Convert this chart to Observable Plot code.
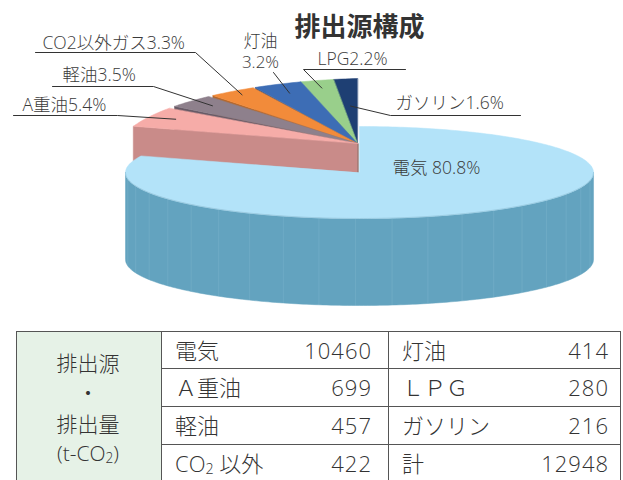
<!DOCTYPE html>
<html><head><meta charset="utf-8">
<script src="https://cdn.jsdelivr.net/npm/d3@7"></script>
<script src="https://cdn.jsdelivr.net/npm/@observablehq/plot@0.6"></script>
<style>
body{margin:0;width:623px;height:480px;overflow:hidden;background:#fff;
 font-family:"Open Sans","Noto Sans CJK JP",sans-serif;color:#333;}
#chart{position:absolute;left:0;top:0;}
#tbl{position:absolute;left:16px;top:331px;width:605px;height:152px;box-sizing:border-box;border:1px solid #555;}
.t{position:absolute;white-space:nowrap;font-size:22px;font-weight:300;line-height:1;transform:translateY(-50%);}
.h{font-size:21px;}
.num{letter-spacing:1px;}
.hl{position:absolute;height:1px;background:#555;}
.vl{position:absolute;width:1px;background:#555;top:0;bottom:0;}
sub{font-size:65%;vertical-align:baseline;position:relative;top:0.15em;line-height:0;}
</style></head><body>
<div id="chart"></div><div id="tbl"></div>
<script>
// ---- data ----
const title = "排出源構成";
const categories = ["電気","A重油","軽油","CO2以外ガス","灯油","LPG","ガソリン"];
const percents = [80.8, 5.4, 3.5, 3.3, 3.2, 2.2, 1.6];
const topColors = ["#b3e3f9","#f6aca8","#8e808c","#f28b3a","#3d6db5","#99cf8b","#1e3f73"];
const sideColors = ["#63a3bf","#c98b89","#665a66","#b5672a","#2b5189","#74a86a","#132c55"];
const headerLines = ["排出源","・","排出量","(t-CO<sub>2</sub>)"];
const tableLeftLabels = ["電気","Ａ重油","軽油","CO<sub>2</sub> 以外"];
const tableLeftValues = [10460, 699, 457, 422];
const tableRightLabels = ["灯油","ＬＰＧ","ガソリン","計"];
const tableRightValues = [414, 280, 216, 12948];

// ---- layout (pixels) ----
const CX = 359, CY = 172, RX = 234, RY = 46, DEPTH = 87;
const px2x = p => (p - CX) / RX;
const px2y = p => (p - CY) / RY;
const D = DEPTH / RY;
const S = {ox: px2x(357), oy: px2y(143), rx: 240 / RX, ry: 65 / RY, shear: 6.4 / RY};
const gaps = [0, 2.0, 1.3, 0.6, 0, 0, 0];
const labelLayout = [
  {tx: 392, ty: 168},
  {tx: 22, ty: 105, ux0: 13, ux1: 117, uy: 115, f: 0.88, side: "L"},
  {tx: 62, ty: 75, ux0: 52, ux1: 153, uy: 86, f: 0.88, side: "L"},
  {tx: 42, ty: 43, ux0: 35, ux1: 195, uy: 52, f: 0.93, side: "L"},
  {tx: 260, ty: 41, ty2: 62, lx: 273, ly: 72, f: 0.85, side: "C"},
  {tx: 317, ty: 59, ux0: 303, ux1: 405, uy: 69, f: 0.88, side: "R"},
  {tx: 395, ty: 103, ux0: 390, ux1: 520, uy: 115, f: 0.58, side: "R"}
];

const R = Math.PI / 180;
const cum = d3.cumsum(percents);
const a0s = percents.map((p, i) => (cum[i] - p) * 3.6);
const a1s = percents.map((p, i) => cum[i] * 3.6);

const bigPt = (a, z = 0) => ({x: Math.sin(a * R), y: -Math.cos(a * R) + z});
const smallPt = (a, f = 1, z = 0) => {
  const s = Math.sin(a * R), c = Math.cos(a * R);
  return {x: S.ox + f * S.rx * s, y: S.oy + f * (-S.ry * c - S.shear * s) + z};
};
const arc = (fn, a, b) => {
  const n = Math.max(2, Math.ceil(Math.abs(b - a) / 1));
  return d3.range(n + 1).map(i => fn(a + (b - a) * i / n));
};

const polys = [];
for (let i = percents.length - 1; i >= 1; i--) {
  const a0 = a0s[i], a1 = a1s[i] - gaps[i];
  polys.push({pts: [smallPt(a0, 0), smallPt(a0, 1), smallPt(a0, 1, D), smallPt(a0, 0, D)], fill: sideColors[i]});
  polys.push({pts: [smallPt(a0, 0), ...arc(a => smallPt(a), a0, a1)], fill: topColors[i]});
}
polys.push({pts: [...arc(a => bigPt(a), 90, 270), ...arc(a => bigPt(a, D), 270, 90)], fill: sideColors[0]});
polys.push({pts: [{x: 0, y: 0}, ...arc(a => bigPt(a), a0s[0], a1s[0])], fill: topColors[0]});

const facetAngles = d3.range(100, 268, 9);
const facets = facetAngles.map(a => ({p: bigPt(a), q: bigPt(a, D)}));

const marks = [];
polys.forEach(p => marks.push(Plot.line(p.pts, {x: "x", y: "y", fill: p.fill, stroke: p.fill, strokeWidth: 0.5, curve: "linear-closed"})));
marks.push(Plot.link(facets, {x1: d => d.p.x, y1: d => d.p.y, x2: d => d.q.x, y2: d => d.q.y, stroke: "#8fc0d6", strokeOpacity: 0.35, strokeWidth: 0.8}));
marks.push(Plot.line(arc(a => bigPt(a), 90, 270), {x: "x", y: "y", stroke: "#9ccde3", strokeWidth: 1}));

const font = {fontSize: 17.5, fill: "#3a3a3a", fontWeight: 300};
categories.forEach((c, i) => {
  const L = labelLayout[i];
  if (i === 0) {
    marks.push(Plot.text([`${c} ${percents[i]}%`], {x: px2x(L.tx), y: px2y(L.ty), textAnchor: "start", ...font}));
    return;
  }
  const mid = (a0s[i] + a1s[i]) / 2;
  const end = smallPt(mid, L.f);
  let pts;
  if (L.side === "L") pts = [{x: px2x(L.ux0), y: px2y(L.uy)}, {x: px2x(L.ux1), y: px2y(L.uy)}, end];
  else if (L.side === "R") pts = [end, {x: px2x(L.ux0), y: px2y(L.uy)}, {x: px2x(L.ux1), y: px2y(L.uy)}];
  else pts = [{x: px2x(L.lx), y: px2y(L.ly)}, end];
  marks.push(Plot.line(pts, {x: "x", y: "y", stroke: "#333", strokeWidth: 1}));
  if (L.side === "C") {
    marks.push(Plot.text([c], {x: px2x(L.tx), y: px2y(L.ty), textAnchor: "middle", ...font, fontSize: 17}));
    marks.push(Plot.text([`${percents[i]}%`], {x: px2x(L.tx), y: px2y(L.ty2), textAnchor: "middle", ...font, fontSize: 17}));
  } else {
    marks.push(Plot.text([`${c}${percents[i]}%`], {x: px2x(L.tx), y: px2y(L.ty), textAnchor: "start", ...font}));
  }
});
marks.push(Plot.text([title], {x: px2x(359), y: px2y(27), fontSize: 26, fontWeight: "bold", fill: "#333", fontFamily: "Noto Sans CJK JP"}));

const chart = Plot.plot({
  width: 623, height: 325, margin: 0,
  x: {type: "linear", domain: [-1, 1], range: [CX - RX, CX + RX], axis: null},
  y: {type: "linear", domain: [-1, 1], range: [CY - RY, CY + RY], axis: null},
  style: {fontFamily: '"Open Sans","Noto Sans CJK JP",sans-serif', background: "transparent", overflow: "visible"},
  marks
});
document.getElementById("chart").append(chart);

// ---- table ----
const tbl = document.getElementById("tbl");
const HW = 144, SEP = 371, rowTops = [0, 37, 75, 113], rowH = 38;
const hdr = document.createElement("div");
Object.assign(hdr.style, {position: "absolute", left: 0, top: 0, width: HW + "px", bottom: 0, background: "#e6f2e7", borderRight: "1px solid #555"});
tbl.append(hdr);
const add = (html, left, top, align, cls) => {
  const d = document.createElement("div");
  d.className = "t" + (cls ? " " + cls : ""); d.innerHTML = html;
  d.style.top = top + "px";
  if (align === "right") { d.style.right = (605 - 2 - left) + "px"; }
  else if (align === "center") { d.style.left = left + "px"; d.style.transform = "translate(-50%,-50%)"; }
  else d.style.left = left + "px";
  tbl.append(d);
};
const hy = [31, 61, 92, 121];
headerLines.forEach((h, i) => add(h, 71, hy[i], "center", "h"));
[1, 2, 3].forEach(i => {
  const l = document.createElement("div"); l.className = "hl";
  Object.assign(l.style, {left: HW + "px", right: 0, top: (rowTops[i] - 1) + "px"});
  tbl.append(l);
});
const v = document.createElement("div"); v.className = "vl"; v.style.left = SEP + "px"; tbl.append(v);
tableLeftLabels.forEach((t, i) => {
  const cy = rowTops[i] + rowH / 2 - 1;
  add(t, 158, cy, "left");
  add(String(tableLeftValues[i]), 355, cy, "right", "num");
  add(tableRightLabels[i], 385, cy, "left");
  add(String(tableRightValues[i]), 592, cy, "right", "num");
});
</script>
</body></html>
